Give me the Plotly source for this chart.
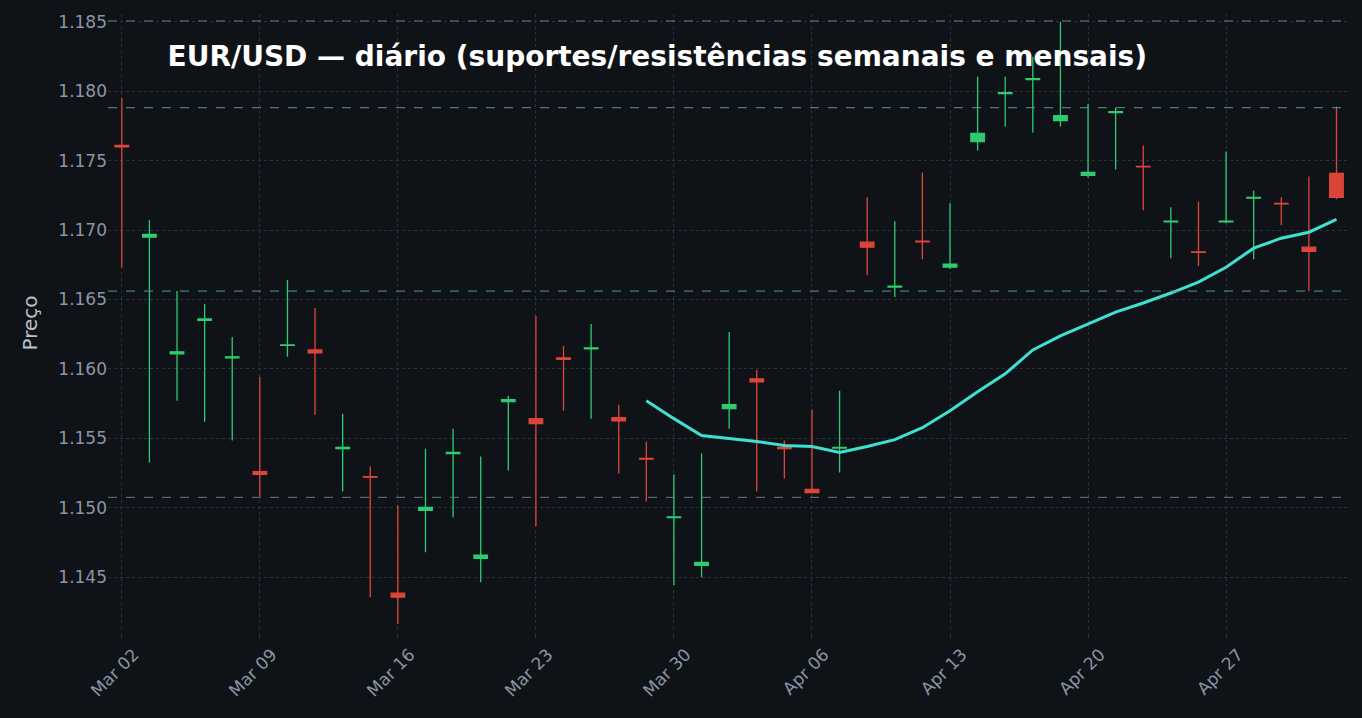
import pandas as pd
import plotly.graph_objects as go

dates = pd.bdate_range("2026-03-02", "2026-05-01")

opens = [1.1761, 1.16949, 1.16109, 1.16350, 1.16080, 1.15261, 1.16170, 1.16137, 1.15427, 1.15225,
         1.14385, 1.14982, 1.15390, 1.14636, 1.15764, 1.15642, 1.16080, 1.16145, 1.15649, 1.15355,
         1.14930, 1.14586, 1.15714, 1.15929, 1.15434, 1.15132, 1.15430, 1.16913, 1.16590, 1.16920,
         1.16733, 1.17638, 1.17983, 1.18084, 1.17789, 1.17394, 1.17846, 1.17459, 1.17060, 1.16843,
         1.17060, 1.17230, 1.17193, 1.16877, 1.17408]
highs = [1.17954, 1.17071, 1.16561, 1.16468, 1.16231, 1.15944, 1.16640, 1.16439, 1.15678, 1.15297,
         1.15017, 1.15426, 1.15570, 1.15369, 1.15807, 1.16382, 1.16166, 1.16324, 1.15742, 1.15477,
         1.15240, 1.15390, 1.16267, 1.15994, 1.15484, 1.15707, 1.15843, 1.17236, 1.17064, 1.17416,
         1.17193, 1.18105, 1.18105, 1.18249, 1.18500, 1.17911, 1.17882, 1.17610, 1.17164, 1.17207,
         1.17566, 1.17286, 1.17236, 1.17387, 1.17890]
lows = [1.16733, 1.15326, 1.15771, 1.15620, 1.15484, 1.15082, 1.16087, 1.15670, 1.15118, 1.14356,
        1.14163, 1.14680, 1.14931, 1.14464, 1.15268, 1.14866, 1.15699, 1.15642, 1.15247, 1.15046,
        1.14443, 1.14500, 1.15570, 1.15118, 1.15211, 1.15105, 1.15254, 1.16676, 1.16518, 1.16791,
        1.16720, 1.17574, 1.17746, 1.17703, 1.17746, 1.17380, 1.17437, 1.17143, 1.16798, 1.16741,
        1.17050, 1.16791, 1.17035, 1.16561, 1.17222]
closes = [1.1760, 1.16970, 1.16123, 1.16360, 1.16087, 1.15240, 1.16173, 1.16116, 1.15434, 1.15220,
          1.14356, 1.15003, 1.15398, 1.14658, 1.15778, 1.15606, 1.16070, 1.16152, 1.15627, 1.15350,
          1.14934, 1.14606, 1.15743, 1.15907, 1.15427, 1.15110, 1.15434, 1.16877, 1.16597, 1.16915,
          1.16755, 1.17696, 1.17990, 1.18091, 1.17825, 1.17416, 1.17853, 1.17455, 1.17064, 1.16840,
          1.17064, 1.17236, 1.17190, 1.16848, 1.17236]

# media movel (a partir de 27/03)
ma_values = [1.15771, 1.15642, 1.15520, 1.15498, 1.15477, 1.15448, 1.15441, 1.15398, 1.15441, 1.15491,
             1.15577, 1.15699, 1.15836, 1.15965, 1.16137, 1.16238, 1.16324, 1.16410, 1.16475, 1.16547,
             1.16626, 1.16733, 1.16870, 1.16942, 1.16985, 1.17078]

levels = [1.18507, 1.17882, 1.16561, 1.15075]
level_colors = ["#5f7f86", "#4f9a9a", "#4f9a9a", "#5f7f86"]

bg = "#0f1318"

fig = go.Figure()
fig.add_trace(go.Candlestick(
    x=dates, open=opens, high=highs, low=lows, close=closes,
    increasing=dict(line=dict(color="#2ecc71", width=1.3), fillcolor="#2ecc71"),
    decreasing=dict(line=dict(color="#e0453a", width=1.3), fillcolor="#d94436"),
    whiskerwidth=0, showlegend=False))
fig.add_trace(go.Scatter(x=dates[-len(ma_values):], y=ma_values, mode="lines",
                         line=dict(color="#40e0d0", width=3), showlegend=False))

for lv, c in zip(levels, level_colors):
    fig.add_hline(y=lv, line=dict(color=c, width=1, dash="dash"))

fig.update_layout(
    width=1362, height=718,
    paper_bgcolor=bg, plot_bgcolor=bg,
    margin=dict(l=108, r=14, t=12, b=86),
    font=dict(family="DejaVu Sans", color="#8a96a6", size=17),
    title=dict(text="<b>EUR/USD — diário (suportes/resistências semanais e mensais)</b>",
               x=0.123, xanchor="left", y=0.922, yanchor="middle",
               font=dict(size=28, color="white")),
    xaxis=dict(rangeslider=dict(visible=False),
               rangebreaks=[dict(bounds=["sat", "mon"])],
               range=["2026-02-27 12:00", "2026-05-01 10:00"],
               tickvals=pd.date_range("2026-03-02", "2026-04-27", freq="7D"),
               tickformat="%b %d", tickangle=-45, ticklabelshift=12,
               showgrid=True, gridcolor="#2a323c", griddash="dot",
               zeroline=False, ticks="outside", ticklen=5, tickcolor="#2a323c"),
    yaxis=dict(title=dict(text="Preço", font=dict(color="#b8c0cc")),
               range=[1.14105, 1.18557], tickformat=".3f", dtick=0.005,
               showgrid=True, gridcolor="#2a323c", griddash="dot", zeroline=False),
)

fig.write_html("out.html", config={"displayModeBar": False},
               post_script="document.body.style.margin='0';document.body.style.background='#0f1318';")
